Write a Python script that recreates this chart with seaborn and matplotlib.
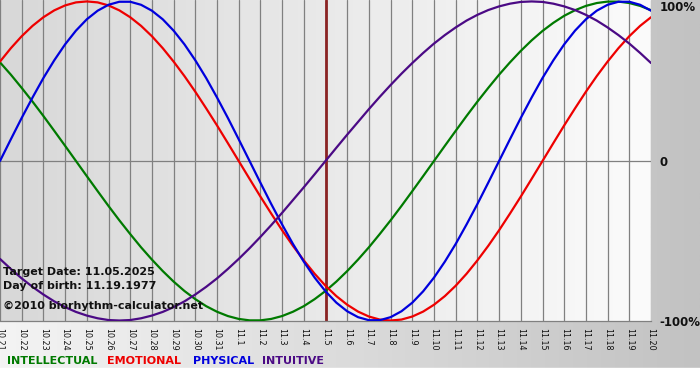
import matplotlib
matplotlib.use("Agg")
import matplotlib.pyplot as plt
from matplotlib.colors import LinearSegmentedColormap
import numpy as np
import pandas as pd
import seaborn as sns

days = ["10.21", "10.22", "10.23", "10.24", "10.25", "10.26", "10.27", "10.28", "10.29", "10.30", "10.31",
        "11.1", "11.2", "11.3", "11.4", "11.5", "11.6", "11.7", "11.8", "11.9", "11.10",
        "11.11", "11.12", "11.13", "11.14", "11.15", "11.16", "11.17", "11.18", "11.19", "11.20"]

intellectual = [0.618, 0.541, 0.458, 0.372, 0.282, 0.189, 0.095, 0.000, -0.095, -0.189, -0.282,
                -0.372, -0.458, -0.541, -0.618, -0.690, -0.756, -0.815, -0.866, -0.910, -0.945,
                -0.972, -0.990, -0.999, -0.999, -0.990, -0.972, -0.945, -0.910, -0.866, -0.815,
                -0.756, -0.690, -0.618, -0.541, -0.458, -0.372, -0.282, -0.189, -0.095, 0.000,
                0.095, 0.189, 0.282, 0.372, 0.458, 0.541, 0.618, 0.690, 0.756, 0.815,
                0.866, 0.910, 0.945, 0.972, 0.990, 0.999, 0.999, 0.990, 0.972, 0.945]
emotional = [0.623, 0.707, 0.782, 0.847, 0.901, 0.944, 0.975, 0.994, 1.000, 0.994, 0.975,
             0.944, 0.901, 0.847, 0.782, 0.707, 0.623, 0.532, 0.434, 0.330, 0.223,
             0.112, 0.000, -0.112, -0.223, -0.330, -0.434, -0.532, -0.623, -0.707, -0.782,
             -0.847, -0.901, -0.944, -0.975, -0.994, -1.000, -0.994, -0.975, -0.944, -0.901,
             -0.847, -0.782, -0.707, -0.623, -0.532, -0.434, -0.330, -0.223, -0.112, 0.000,
             0.112, 0.223, 0.330, 0.434, 0.532, 0.623, 0.707, 0.782, 0.847, 0.901]
physical = [0.000, 0.136, 0.270, 0.398, 0.520, 0.631, 0.731, 0.817, 0.888, 0.942, 0.979,
            0.998, 0.998, 0.979, 0.942, 0.888, 0.817, 0.731, 0.631, 0.520, 0.398,
            0.270, 0.136, 0.000, -0.136, -0.270, -0.398, -0.520, -0.631, -0.731, -0.817,
            -0.888, -0.942, -0.979, -0.998, -0.998, -0.979, -0.942, -0.888, -0.817, -0.731,
            -0.631, -0.520, -0.398, -0.270, -0.136, 0.000, 0.136, 0.270, 0.398, 0.520,
            0.631, 0.731, 0.817, 0.888, 0.942, 0.979, 0.998, 0.998, 0.979, 0.942]
intuitive = [-0.614, -0.677, -0.736, -0.789, -0.837, -0.880, -0.916, -0.946, -0.969, -0.986, -0.997,
             -1.000, -0.997, -0.986, -0.969, -0.946, -0.916, -0.880, -0.837, -0.789, -0.736,
             -0.677, -0.614, -0.547, -0.476, -0.402, -0.325, -0.245, -0.165, -0.083, 0.000,
             0.083, 0.165, 0.245, 0.325, 0.402, 0.476, 0.547, 0.614, 0.677, 0.736,
             0.789, 0.837, 0.880, 0.916, 0.946, 0.969, 0.986, 0.997, 1.000, 0.997,
             0.986, 0.969, 0.946, 0.916, 0.880, 0.837, 0.789, 0.736, 0.677, 0.614]

series_names = ["INTELLECTUAL", "EMOTIONAL", "PHYSICAL", "INTUITIVE"]
series_colors = ["#007a00", "#ee0000", "#0000dd", "#4b0a85"]
target_day = "11.5"
info_lines = ["Target Date: 11.05.2025", "Day of birth: 11.19.1977", "\u00a92010 biorhythm-calculator.net"]
right_labels = ["100%", "0", "-100%"]

series_values = [intellectual, emotional, physical, intuitive]
n_samples = len(intellectual)
sample_pos = [i * (len(days) - 1) / (n_samples - 1) for i in range(n_samples)]
df = pd.DataFrame({
    "x": sample_pos * len(series_names),
    "value": sum(series_values, []),
    "series": sum([[n] * n_samples for n in series_names], []),
})

sns.set_theme(style="white")
plt.rcParams["font.family"] = ["DejaVu Sans"]

W, H = 700, 380
fig = plt.figure(figsize=(W / 100, H / 100), dpi=100)

# outer background gradient
bg = fig.add_axes([0, 0, 1, 1], zorder=-10)
grad = np.linspace(0, 1, 256)[None, :]
outer_cmap = LinearSegmentedColormap.from_list("o", ["#f4f4f4", "#c2c2c2"])
bg.imshow(grad, aspect="auto", cmap=outer_cmap, extent=[0, 1, 12 / H, 1])
bg.axhspan(0, 12 / H, color="white")
bg.set_xlim(0, 1)
bg.set_ylim(0, 1)
bg.axis("off")

# plot area
ax = fig.add_axes([0, 1 - 321 / H, 651 / W, 321 / H])
ylo, yhi = -1.003, 1.009
inner_cmap = LinearSegmentedColormap.from_list("i", ["#d8d8d8", "#fbfbfb"])
ax.imshow(grad, aspect="auto", cmap=inner_cmap, extent=[0, len(days) - 1, ylo, yhi], zorder=0)

ax.set_xticks(range(len(days)))
ax.set_xticklabels(days, rotation=270, fontsize=5.8, color="#111111")
ax.tick_params(axis="x", length=0, pad=5, bottom=True)
ax.grid(axis="x", color="#808080", lw=0.9, zorder=1)
ax.axhline(0, color="#808080", lw=0.9, zorder=1)

ax.axvline(days.index(target_day), color="#8b2424", lw=2.0, zorder=2)

for name, col in zip(series_names, series_colors):
    sns.lineplot(data=df[df.series == name], x="x", y="value", color=col, lw=1.6,
                 ax=ax, legend=False, zorder=3)

ax.set_xlim(0, len(days) - 1)
ax.set_ylim(ylo, yhi)
ax.yaxis.tick_right()
ax.set_yticks([1, 0, -1])
ax.set_yticklabels(right_labels, fontsize=8.5, fontweight="bold", color="#111111")
ax.get_yticklabels()[0].set_verticalalignment("top")
ax.tick_params(axis="y", length=0, pad=6, right=True)
ax.set_xlabel("")
ax.set_ylabel("")
for s in ["top", "left", "right"]:
    ax.spines[s].set_visible(False)
ax.spines["bottom"].set_color("#808080")
ax.spines["bottom"].set_linewidth(0.9)

# info text
for txt, ypix in zip(info_lines, [272, 286, 306]):
    fig.text(3 / W, 1 - ypix / H, txt, fontsize=8, fontweight="bold", color="#111111",
             va="center", ha="left")

# legend words
for name, col, xpix in zip(series_names, series_colors, [7, 107, 193, 262]):
    fig.text(xpix / W, 1 - 361.5 / H, name, fontsize=8, fontweight="bold", color=col,
             va="center", ha="left")

fig.savefig("out.png", dpi=100)
